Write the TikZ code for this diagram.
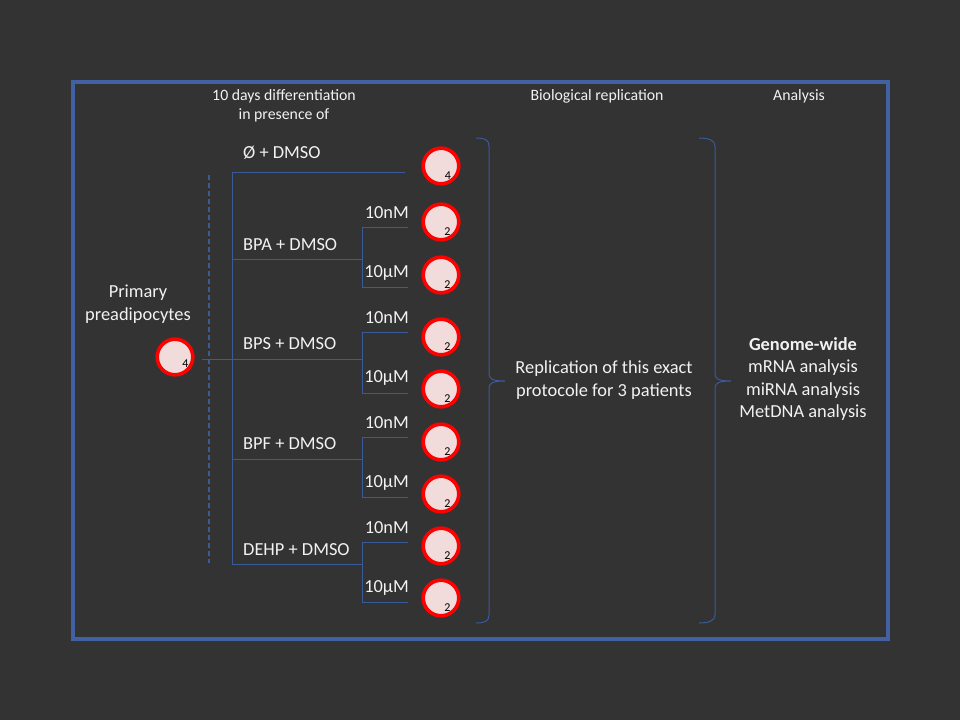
\documentclass[tikz,border=0pt]{standalone}
\usepackage{fontspec}
\setmainfont{Carlito}
\usetikzlibrary{calc}
\definecolor{bgcol}{HTML}{333333}
\definecolor{framecol}{HTML}{4161A3}
\definecolor{linecol}{HTML}{3A5A9A}
\definecolor{cellfill}{HTML}{F2DCDB}
\definecolor{txt}{HTML}{F2F2F2}
\begin{document}
\begin{tikzpicture}[x=1pt,y=-1pt,
  cell/.style={circle, draw=red, line width=3.6pt, fill=cellfill, minimum size=35.6pt, inner sep=0pt},
  num/.style={font=\fontsize{12}{13}\selectfont, text=black, inner sep=0pt},
  lbl/.style={font=\fontsize{18.4}{22.6}\selectfont, text=txt, inner sep=0pt},
  hdr/.style={font=\fontsize{15.8}{19}\selectfont, text=txt, inner sep=0pt, align=center},
  link/.style={draw=linecol, line width=0.9pt},
  brace/.style={draw=linecol, line width=1pt},
]
\fill[bgcol] (0,0) rectangle (960,720);
\useasboundingbox (0,0) rectangle (960,720);
\draw[framecol, line width=3.2pt] (73,82) rectangle (888,639);

% headers
\node[hdr] (h1) at (284,106) {10 days differentiation\\in presence of};
\node[hdr] (h2) at (597,96) {Biological replication};
\node[hdr] (h3) at (799,96) {Analysis};

% primary
\node[lbl, align=center] (prim) at (138,304) {Primary\\preadipocytes};
\node[cell] (p) at (175,357) {};
\node[num] (pn) at (185.5,363.5) {4};

% dashed line
\coordinate (d1) at (209,175);
\coordinate (d2) at (209,563);
\draw[linecol, line width=1.5pt, dash pattern=on 5pt off 3pt] (d1) -- (d2);

% trunk
\coordinate (t0) at (232,172);
\coordinate (t5) at (232,564);
\coordinate (ps) at (202,359);
\draw[link] (t0) -- (t5);

% circles
\node[cell] (c0) at (441,166) {};
\node[num] (n0) at (448,176) {4};
\foreach \i/\y in {1/222,2/275,3/337,4/389,5/442,6/494,7/546,8/598}{
  \node[cell] (c\i) at (441,\y) {};
  \node[num] (n\i) at (447.5,\y+10) {2};
}

% Ø branch
\coordinate (e0) at (405,172);
\draw[link] (t0) -- (e0);
\node[lbl, anchor=west] (l0) at (243,153) {Ø + DMSO};

% treatment branches: name / line y / top / bottom / label y / nM y / uM y
\foreach \k/\ly/\bt/\bb/\ty/\na/\ua in {A/259/227/287/245/213/273, S/359/332/393/344/318/378, F/459/437/497/444/423/483, D/564/542/602/550/528/588}{
  \coordinate (s\k) at (232,\ly);
  \coordinate (b\k) at (362,\ly);
  \coordinate (bt\k) at (362,\bt);
  \coordinate (bb\k) at (362,\bb);
  \coordinate (et\k) at (408,\bt);
  \coordinate (eb\k) at (408,\bb);
  \draw[link] (s\k) -- (b\k);
  \draw[link] (et\k) -- (bt\k) -- (bb\k) -- (eb\k);
  \node[lbl, anchor=east] (nm\k) at (409,\na) {10nM};
  \node[lbl, anchor=east] (um\k) at (409,\ua) {10µM};
}
\draw[link] (ps) -- (sS);

\node[lbl, anchor=west] (lA) at (243,245) {BPA + DMSO};
\node[lbl, anchor=west] (lS) at (243,344) {BPS + DMSO};
\node[lbl, anchor=west] (lF) at (243,444) {BPF + DMSO};
\node[lbl, anchor=west] (lD) at (243,550) {DEHP + DMSO};

% braces
\draw[brace] (476,138) .. controls (485,138) and (489,140) .. (489,146) -- (489,374)
  .. controls (489,379) and (493,381) .. (505,381)
  .. controls (493,381) and (489,383) .. (489,388) -- (489,615)
  .. controls (489,621) and (485,623) .. (476,623);
\draw[brace] (699,138) .. controls (708,138) and (715,140) .. (715,146) -- (715,374)
  .. controls (715,379) and (719,381) .. (731,381)
  .. controls (719,381) and (715,383) .. (715,388) -- (715,615)
  .. controls (715,621) and (708,623) .. (699,623);

\node[lbl, align=center] (rep) at (604,380) {Replication of this exact\\protocole for 3 patients};
\node[lbl, align=center] (ana) at (803,379) {\textbf{Genome-wide}\\mRNA analysis\\miRNA analysis\\MetDNA analysis};
\end{tikzpicture}
\end{document}
